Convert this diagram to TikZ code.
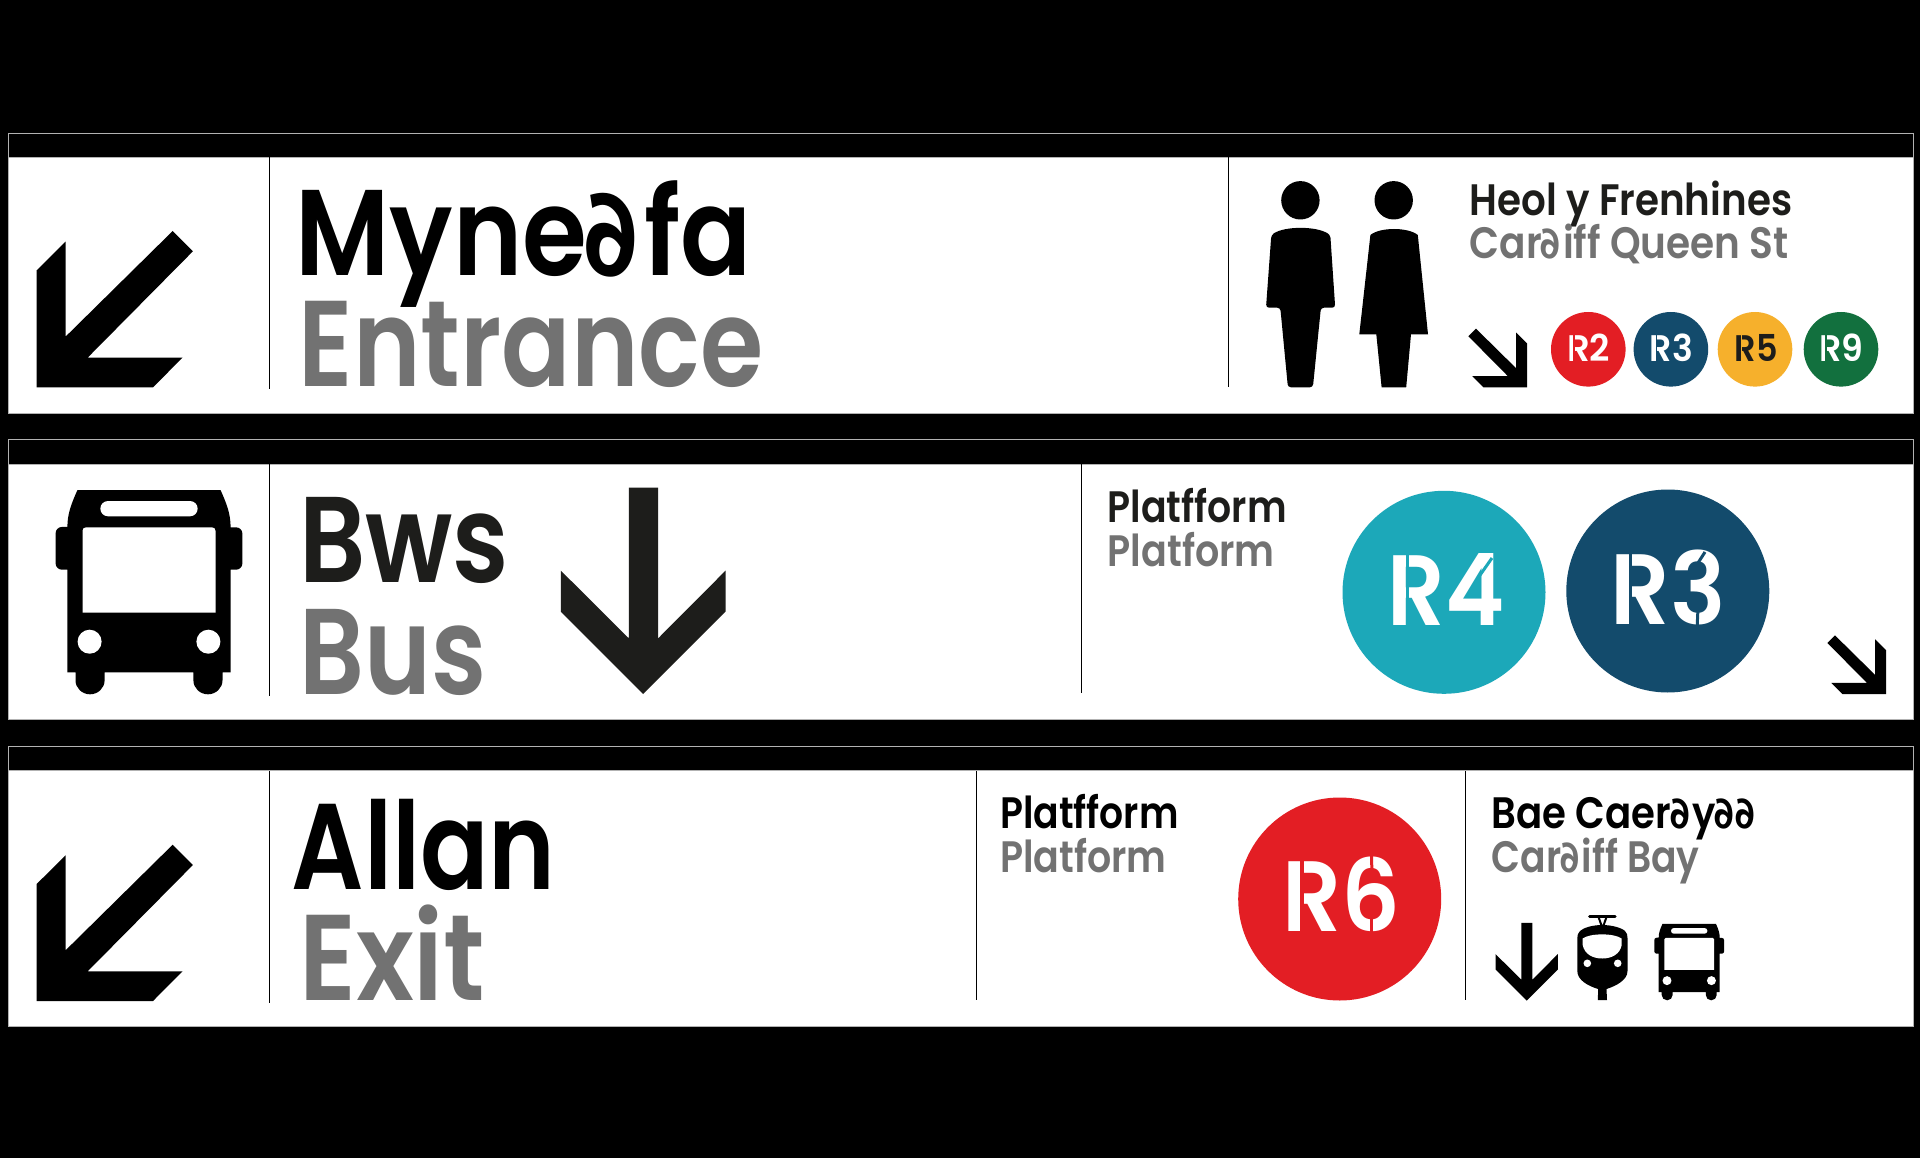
\documentclass[tikz,border=0pt]{standalone}
\usepackage{fontspec}
\setmainfont{Poppins}[BoldFont={Poppins SemiBold}]
\newfontfamily\smallsign{Poppins SemiBold}
\newfontfamily\dfont[FakeSlant=-0.18]{DejaVu Sans}
\definecolor{signgrey}{HTML}{727272}
\definecolor{signink}{HTML}{1D1D1B}
\definecolor{routered}{HTML}{E31E24}
\definecolor{routenavy}{HTML}{134B6C}
\definecolor{routeamber}{HTML}{F6B02C}
\definecolor{routegreen}{HTML}{12703E}
\definecolor{routeteal}{HTML}{1CA8B9}
% text squeezed to a given width
\newsavebox{\fitbox}
\newcommand{\fit}[2]{\sbox{\fitbox}{#2}\pgfmathsetmacro{\fitratio}{#1/\wd\fitbox}\scalebox{\fitratio}[1]{\usebox{\fitbox}}}
\newcommand{\dd}{{\dfont\bfseries ∂}}
\tikzset{
  panel/.style={fill=white,draw=white!70!black,line width=0.8pt},
  topbar/.style={fill=black,draw=white!70!black,line width=0.8pt},
  divider/.style={draw=black,line width=1pt},
  bigtext/.style={anchor=base west,inner sep=0pt,text depth=0pt,font=\fontsize{122}{122}\selectfont\bfseries},
  smalltext/.style={anchor=base west,inner sep=0pt,text depth=0pt,font=\fontsize{44}{44}\selectfont\smallsign},
  routesmall/.style={circle,inner sep=0pt,minimum size=74.6pt},
  routebig/.style={circle,inner sep=0pt,minimum size=203pt},
  labsmall/.style={anchor=base west,inner sep=0pt,text=white,font=\fontsize{37}{37}\selectfont\bfseries},
  labbig/.style={anchor=base west,inner sep=0pt,text=white,font=\fontsize{100}{100}\selectfont\bfseries},
  cornerarrow/.pic={
    \fill (0,0) -- (0,-117) -- (28.8,-145.6) -- (28.8,-50.6) -- (136,-156.3) -- (156.2,-136)
      -- (50.9,-29.6) -- (145.8,-29.6) -- (116.3,0) -- cycle;
  },
  downarrow/.pic={
    \fill (0,0) -- (-82.4,-82.4) -- (-82.4,-123.4) -- (-14.4,-55.7) -- (-14.4,-206.3)
      -- (15,-206.3) -- (15,-55.7) -- (82.4,-123.4) -- (82.4,-82.4) -- cycle;
  },
  buspic/.pic={
    \fill (-71.5,-204.3) -- (71.5,-204.3) .. controls (78,-190) and (81.6,-180) .. (81.6,-167)
      -- (87,-167) arc[start angle=-90,end angle=0,radius=6.4] -- (93.4,-131) arc[start angle=0,end angle=90,radius=6.4]
      -- (81.6,-124.6) -- (81.6,-22) -- (73.5,-22) -- (73.5,-14) arc[start angle=0,end angle=180,x radius=14.55,y radius=14]
      -- (44.4,-22) -- (-44.4,-22) -- (-44.4,-14) arc[start angle=0,end angle=180,x radius=14.55,y radius=14]
      -- (-73.5,-22) -- (-81.6,-22) -- (-81.6,-124.6) -- (-87,-124.6) arc[start angle=90,end angle=180,radius=6.4]
      -- (-93.4,-161) arc[start angle=180,end angle=270,radius=6.4] -- (-81.6,-167.4)
      .. controls (-81.6,-180) and (-78,-190) .. (-71.5,-204.3) -- cycle;
    \fill[white] (-63,-167) -- (63,-167) arc[start angle=-90,end angle=0,radius=3.5] -- (66.5,-81.6) -- (-66.5,-81.6)
      -- (-66.5,-163.5) arc[start angle=180,end angle=270,radius=3.5] -- cycle;
    \fill[white] (-41,-193.3) -- (41,-193.3) arc[start angle=-90,end angle=90,radius=7.65]
      -- (-41,-178) arc[start angle=90,end angle=270,radius=7.65] -- cycle;
    \fill[white] (-59.4,-52.6) circle (12) (59.4,-52.6) circle (12);
  },
}
\begin{document}
\begin{tikzpicture}[x=1pt,y=-1pt]
  \useasboundingbox (0,0) rectangle (1920,1158);
  \fill[black] (0,0) rectangle (1920,1158);
  % three panels
  \foreach \ytop in {133,439.5,746}{
    \draw[topbar] (8,\ytop) rectangle (1913,\ytop+24.5);
    \draw[panel] (8,\ytop+24.5) rectangle (1913,\ytop+280);
  }
  % entrance
  \draw[divider] (269.5,157) -- (269.5,389);
  \draw[divider] (1228,157) -- (1228,387);
  \pic at (36.7,387.3) {cornerarrow};
  \node[bigtext] (mynedfa) at (295.5,275.7) {\fit{456}{Myne\dd fa}};
  \node[bigtext,text=signgrey] (entrance) at (298.5,386.7) {\fit{465}{Entrance}};
  % people
  \fill (1300.4,200.3) circle (19.2);
  \fill[rounded corners=3pt] (1271.3,235) .. controls (1285,226) and (1316,226) .. (1330.3,235)
    -- (1335.2,307.7) -- (1320.9,307.7) -- (1312.9,387.3) -- (1287.9,387.3) -- (1280.3,307.7) -- (1266,307.7) -- cycle;
  \fill (1393.7,200.3) circle (19.2);
  \fill (1370.4,235) .. controls (1380,227) and (1408,227) .. (1417.8,235)
    -- (1428,334.3) -- (1411,334.3) -- (1406.2,387.3) -- (1381.6,387.3) -- (1376.3,334.3) -- (1359.3,334.3) -- cycle;
  \node[smalltext,text=signink] (heol) at (1469.5,215.7) {\fit{322.5}{Heol y Frenhines}};
  \node[smalltext,text=signgrey] (queenst) at (1469.5,259) {\fit{319}{Car\dd iff Queen St}};
  \pic[xscale=-.375,yscale=.375] at (1527,387.3) {cornerarrow};
  % small route discs
  \node[routesmall,fill=routered] (rtwo) at (1588.3,349.3) {};
  \node[routesmall,fill=routenavy] (rthree) at (1670.9,349.3) {};
  \node[routesmall,fill=routeamber] (rfive) at (1755,349.3) {};
  \node[routesmall,fill=routegreen] (rnine) at (1841,349.3) {};
  \node[labsmall] (ltwo) at (1567,361.7) {\fit{43}{R2}};
  \node[labsmall] (lthree) at (1649.7,361.7) {\fit{43}{R3}};
  \node[labsmall,text=signink] (lfive) at (1734.5,361.7) {\fit{43}{R5}};
  \node[labsmall] (lnine) at (1819.3,361.7) {\fit{44}{R9}};
  \draw[routered,line width=1.4pt] (1573.8,335) -- (1573.8,363);
  \draw[routenavy,line width=1.4pt] (1656.5,335) -- (1656.5,363);
  \draw[routeamber,line width=1.4pt] (1741.3,335) -- (1741.3,363);
  \draw[routegreen,line width=1.4pt] (1826.1,335) -- (1826.1,363);
  % bus
  \draw[divider] (269.5,464) -- (269.5,696);
  \draw[divider] (1081,464) -- (1081,693);
  \pic at (149,694.3) {buspic};
  \node[bigtext,text=signink] (bws) at (299,582.7) {\fit{210}{Bws}};
  \node[bigtext,text=signgrey] (bus) at (299,694) {\fit{187}{Bus}};
  \pic[signink] at (643.2,694) {downarrow};
  \node[smalltext,text=signink] (platffa) at (1107.5,522) {\fit{179}{Platfform}};
  \node[smalltext,text=signgrey] (platfa) at (1107.5,566.7) {\fit{167}{Platform}};
  \node[routebig,fill=routeteal] (rfour) at (1444,592.3) {};
  \node[routebig,fill=routenavy] (rthreeb) at (1667.8,591) {};
  \node[labbig] (lfour) at (1387.3,625) {\fit{117}{R4}};
  \node[labbig] (lthreeb) at (1610.7,624) {\fit{115}{R3}};
  \draw[routeteal,line width=3.6pt] (1407.5,550) -- (1407.5,630);
  \draw[routeteal,line width=3pt] (1492,558) -- (1478,578);
  \draw[routenavy,line width=3.6pt] (1630.5,550) -- (1630.5,630);
  \draw[routenavy,line width=3pt] (1705,552) -- (1696,566);
  \draw[routenavy,line width=3pt] (1698,608) -- (1697,630);
  \pic[xscale=-.375,yscale=.375] at (1886,694) {cornerarrow};
  % exit
  \draw[divider] (269.5,771) -- (269.5,1003);
  \draw[divider] (976,771) -- (976,1000);
  \draw[divider] (1465,771) -- (1465,1000);
  \pic at (36.7,1001) {cornerarrow};
  \node[bigtext] (allan) at (291.5,889) {\fit{264}{Allan}};
  \node[bigtext,text=signgrey] (exit) at (299,1000.7) {\fit{186}{Exit}};
  \node[smalltext] (platffb) at (1000,828) {\fit{178.4}{Platfform}};
  \node[smalltext,text=signgrey] (platfb) at (1000,872.7) {\fit{166.5}{Platform}};
  \node[routebig,fill=routered] (rsix) at (1339.7,899) {};
  \node[labbig] (lsix) at (1282,931.7) {\fit{118}{R6}};
  \draw[routered,line width=3.6pt] (1302,857) -- (1302,937);
  \draw[routered,line width=3pt] (1371.5,856) -- (1372,875);
  \draw[routered,line width=3pt] (1371.7,918) -- (1371.7,938);
  \node[smalltext] (caerdydd) at (1491.5,828) {\fit{266}{Bae Caer\dd y\dd\dd}};
  \node[smalltext,text=signgrey] (cardiffbay) at (1491.5,872.7) {\fit{208}{Car\dd iff Bay}};
  \pic[scale=.377] at (1526.7,1000.7) {downarrow};
  \pic[scale=.374] at (1689.2,1000.3) {buspic};
  % tram
  \draw[line width=3pt,line cap=round] (1589.5,916.7) -- (1615,916.7);
  \draw[line width=2pt] (1598.5,917) -- (1602,927) (1606.5,917) -- (1603,927);
  \fill (1602.3,925) .. controls (1612,925) and (1622,928) .. (1625,931) .. controls (1627,933) and (1627.5,935) .. (1627.5,938)
    -- (1627.5,971) .. controls (1627.5,980) and (1616,986) .. (1606.5,989) -- (1607,1000) -- (1597.8,1000) -- (1598.2,989)
    .. controls (1588,986) and (1577.3,980) .. (1577.3,971) -- (1577.3,938) .. controls (1577.3,935) and (1578,933) .. (1580,931)
    .. controls (1583,928) and (1592,925) .. (1602.3,925) -- cycle;
  \fill[white] (1582.7,938.5) .. controls (1590,933) and (1614,933) .. (1621.7,938.5) -- (1621.7,945)
    .. controls (1620,954) and (1612,958.5) .. (1602.3,958.5) .. controls (1592.5,958.5) and (1584.5,954) .. (1582.7,945) -- cycle;
  \fill[white] (1587.3,963.3) circle (3.8) (1617.7,963.3) circle (3.8);
\end{tikzpicture}
\end{document}
